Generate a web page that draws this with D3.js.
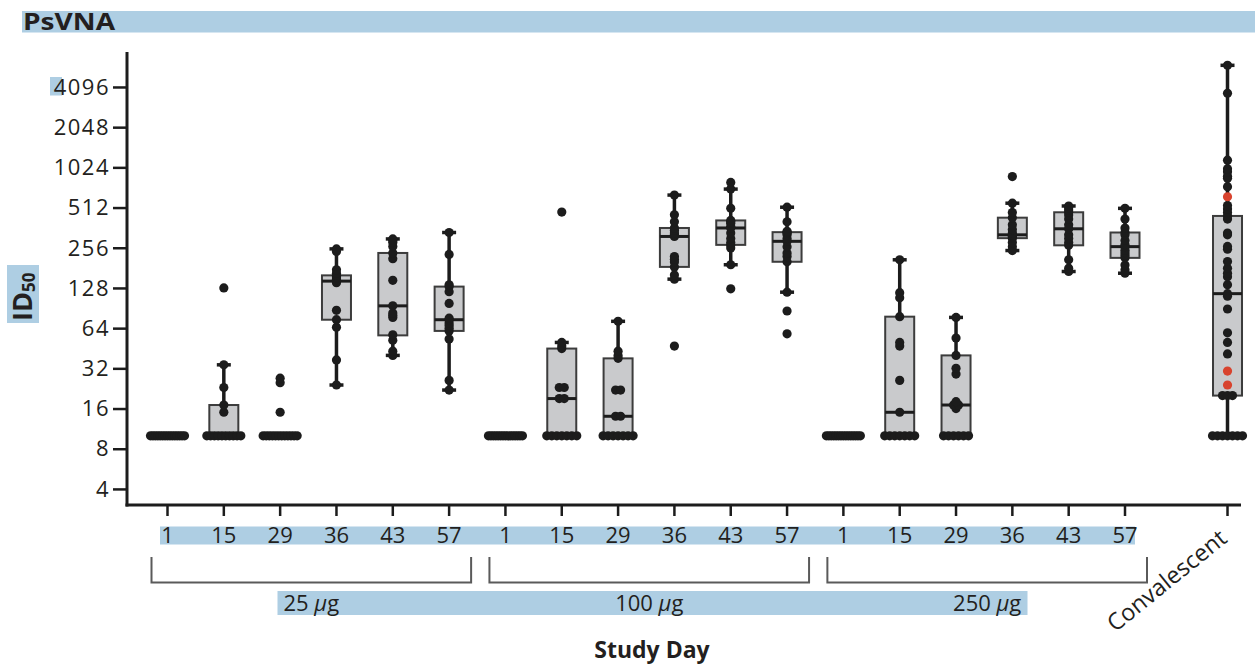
<!DOCTYPE html>
<html><head><meta charset="utf-8">
<script src="https://cdn.jsdelivr.net/npm/d3@7"></script>
<style>
html,body{margin:0;padding:0;background:#fff;}
svg{display:block;}
text{font-family:"Open Sans","DejaVu Sans",sans-serif;fill:#231f20;}
</style></head>
<body><svg id="chart" width="1255" height="668"></svg>
<script>
// ---------- data ----------
const title = "PsVNA";
const yLabel = "ID";
const yLabelSub = "50";
const xTitle = "Study Day";
const days = ["1","15","29","36","43","57"];
const doseGroups = ["25", "100", "250"];
const convLabel = "Convalescent";
const yTicks = [4,8,16,32,64,128,256,512,1024,2048,4096];

// individual values per study day (order: 1,15,29,36,43,57)
const values25 = [
  [10,10,10,10,10,10,10,10,10,10,10,10,10,10,10],
  [10,10,10,10,10,10,10,10,10,10,15,17,23,34,128],
  [10,10,10,10,10,10,10,10,10,10,10,10,15,25,27],
  [24,37,65,74,87,140,144,148,152,155,159,165,175,240,251],
  [40,43,52,57,77,80,83,94,146,212,234,262,280,290,298],
  [22,26,53,61,64,67,70,74,76,98,120,131,135,228,333]
];
const values100 = [
  [10,10,10,10,10,10,10,10,10,10,10,10,10,10,10],
  [10,10,10,10,10,10,10,19,19,23,23,45,47,50,474],
  [10,10,10,10,10,10,10,14,14,22,22,38,40,43,72],
  [47,149,160,184,200,210,220,311,320,330,345,360,400,452,635],
  [126,191,255,269,280,300,330,360,370,390,400,410,505,704,790],
  [58,86,119,201,220,234,260,286,300,320,330,335,340,400,515]
];
const values250 = [
  [10,10,10,10,10,10,10,10,10,10,10,10,10,10,10],
  [10,10,10,10,10,10,10,15,26,47,50,78,108,118,208],
  [10,10,10,10,10,10,16,17,17,18,29,32,40,54,77],
  [244,260,280,302,310,315,318,320,330,350,380,430,470,552,873],
  [170,180,208,267,280,300,320,355,380,420,450,472,490,510,526],
  [165,175,190,215,225,235,245,261,270,290,320,333,360,420,505]
];
const valuesConv = [10,10,10,10,10,10,10,20,20,20,41,50,59,89,111,116,135,155,165,180,202,250,262,320,330,420,443,470,500,530,734,850,880,950,1000,1160,3670,5950];
const valuesConvRed = [24,30.5,617];

// box statistics: 18 vaccine columns then convalescent
const q1     = [10,10,10,74,56.5,61,  10,10,10,184,269,201,  10,10,10,302,267,215,  20];
const median = [10,10,10,144,94,74,   10,19,14,311,360,286,  10,15,17,320,355,261,  116];
const q3     = [10,17,10,159,234,131, 10,45,38,360,410,335,  10,78,40,430,472,333,  443];
const whiskerLow  = [10,10,10,24,40,22, 10,10,10,149,191,119, 10,10,10,244,170,165, 10];
const whiskerHigh = [10,34,10,251,298,333, 10,50,72,635,704,515, 10,208,77,552,526,505, 5950];

// ---------- build ----------
const svg = d3.select("#chart");
const BAND = "#aecee3";
const INK = "#1c1c1c";

const cols = [];
doseGroups.forEach((g, gi) => days.forEach((d, di) => {
  const vals = [values25, values100, values250][gi][di];
  cols.push({label: d, group: gi, idx: gi*6+di, pts: vals.map(v => ({v, red:false}))});
}));
cols.push({label: convLabel, group: -1, idx: 18.82,
  pts: valuesConv.map(v => ({v, red:false})).concat(valuesConvRed.map(v => ({v, red:true})))});
cols.forEach((c, i) => { c.q1 = q1[i]; c.med = median[i]; c.q3 = q3[i]; c.wl = whiskerLow[i]; c.wh = whiskerHigh[i]; });

const x = d3.scaleLinear().domain([0, 17]).range([167.5, 1125]);
const y = d3.scaleLog().base(2).domain([Math.pow(2,1.6), Math.pow(2,12.87)]).range([505, 52]);

// title band
svg.append("rect").attr("x",22).attr("y",11).attr("width",1233).attr("height",21.5).attr("fill",BAND);
svg.append("text").attr("x",23).attr("y",30).attr("font-size",23.5).attr("font-weight",700)
  .attr("textLength",92).attr("lengthAdjust","spacingAndGlyphs").text(title);

// highlight bands
svg.append("rect").attr("x",50).attr("y",77).attr("width",12).attr("height",18.5).attr("fill",BAND);
svg.append("rect").attr("x",160).attr("y",526.5).attr("width",975).attr("height",18).attr("fill",BAND);
svg.append("rect").attr("x",277.5).attr("y",591).attr("width",750).attr("height",24).attr("fill",BAND);
svg.append("rect").attr("x",7).attr("y",265).attr("width",32).attr("height",58).attr("fill",BAND);

// y axis
const yAxis = svg.append("g").attr("transform","translate(127,0)")
  .call(d3.axisLeft(y).tickValues(yTicks).tickFormat(d => d).tickSize(14).tickPadding(3));
yAxis.select(".domain").remove();
yAxis.selectAll(".tick line").attr("stroke",INK).attr("stroke-width",2.5);
yAxis.selectAll(".tick text").attr("font-size",22).attr("letter-spacing",1.5)
  .attr("font-family","'Open Sans',sans-serif").attr("fill","#231f20").attr("dy","0.33em");

// x axis ticks & labels
const xg = svg.append("g");
cols.forEach(c => {
  xg.append("line").attr("x1",x(c.idx)).attr("x2",x(c.idx)).attr("y1",505).attr("y2",516)
    .attr("stroke",INK).attr("stroke-width",2.5);
  if (c.group >= 0) {
    xg.append("text").attr("x",x(c.idx)).attr("y",543).attr("text-anchor","middle")
      .attr("font-size",22).text(c.label);
  }
});
// conv label
const cx = x(18.82);
svg.append("text").attr("text-anchor","end").attr("font-size",23.5)
  .attr("transform",`translate(${cx+1},${541}) rotate(-39)`).text(convLabel);

// axis lines
svg.append("line").attr("x1",127).attr("x2",127).attr("y1",52).attr("y2",506.5).attr("stroke",INK).attr("stroke-width",3);
svg.append("line").attr("x1",125.5).attr("x2",1241).attr("y1",505).attr("y2",505).attr("stroke",INK).attr("stroke-width",3);

// brackets and group labels
doseGroups.forEach((g, gi) => {
  const x0 = x(gi*6) - 16, x1 = x(gi*6+5) + 22;
  svg.append("path").attr("d",`M${x0},557V582.5H${x1}V557`).attr("fill","none")
    .attr("stroke","#5a5a5a").attr("stroke-width",2);
  const t = svg.append("text").attr("x",(x0+x1)/2).attr("y",611).attr("text-anchor","middle").attr("font-size",22);
  t.append("tspan").text(g + " ");
  t.append("tspan").attr("font-style","italic").text("\u03bc");
  t.append("tspan").text("g");
});

// y label
const yl = svg.append("text").attr("transform","translate(32,321) rotate(-90)").attr("font-size",27).attr("font-weight",700);
yl.append("tspan").text(yLabel);
yl.append("tspan").attr("font-size",17).attr("dy",3).text(yLabelSub);

// x title
svg.append("text").attr("x",652).attr("y",658).attr("text-anchor","middle").attr("font-size",23)
  .attr("font-weight",700).text(xTitle);

// boxes
const bw = 29, cap = 14;
const bg = svg.append("g");
cols.forEach(c => {
  const cxp = x(c.idx);
  if (c.wh > c.q3) {
    bg.append("line").attr("x1",cxp).attr("x2",cxp).attr("y1",y(c.q3)).attr("y2",y(c.wh)).attr("stroke",INK).attr("stroke-width",3.5);
    bg.append("line").attr("x1",cxp-cap/2).attr("x2",cxp+cap/2).attr("y1",y(c.wh)).attr("y2",y(c.wh)).attr("stroke",INK).attr("stroke-width",3.5);
  }
  if (c.wl < c.q1) {
    bg.append("line").attr("x1",cxp).attr("x2",cxp).attr("y1",y(c.q1)).attr("y2",y(c.wl)).attr("stroke",INK).attr("stroke-width",3.5);
    bg.append("line").attr("x1",cxp-cap/2).attr("x2",cxp+cap/2).attr("y1",y(c.wl)).attr("y2",y(c.wl)).attr("stroke",INK).attr("stroke-width",3.5);
  }
  if (c.q3 > c.q1) {
    bg.append("rect").attr("x",cxp-bw/2).attr("y",y(c.q3)).attr("width",bw).attr("height",y(c.q1)-y(c.q3))
      .attr("fill","#c9cacc").attr("stroke","#3c3c3c").attr("stroke-width",2);
    bg.append("line").attr("x1",cxp-bw/2).attr("x2",cxp+bw/2).attr("y1",y(c.med)).attr("y2",y(c.med))
      .attr("stroke",INK).attr("stroke-width",3);
  }
});

// dots with simple swarm for identical values
const dg = svg.append("g");
cols.forEach(c => {
  const byVal = d3.group(c.pts, p => p.v);
  byVal.forEach((arr, v) => {
    const k = arr.length;
    const sp = k > 1 ? Math.min(5, 34/(k-1)) : 0;
    arr.forEach((p, j) => {
      dg.append("circle").attr("cx", x(c.idx) + (j - (k-1)/2)*sp).attr("cy", y(v)).attr("r",4.6)
        .attr("fill", p.red ? "#d8432e" : INK);
    });
  });
});
</script></body></html>
